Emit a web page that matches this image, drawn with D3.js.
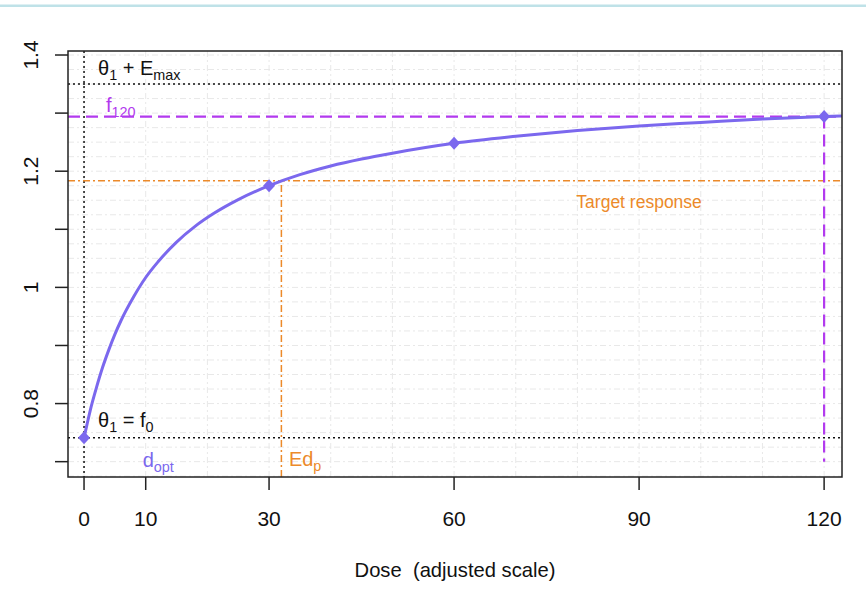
<!DOCTYPE html>
<html>
<head>
<meta charset="utf-8">
<script src="https://cdn.jsdelivr.net/npm/d3@7"></script>
<style>
  html, body { margin: 0; padding: 0; background: #ffffff; }
  svg { display: block; font-family: "Liberation Sans", Arial, Helvetica, sans-serif; }
  text { white-space: pre; }
</style>
</head>
<body>
<svg id="chart" width="866" height="596"></svg>
<script>
// ---- data ----
const curveDose = [0, 0.5, 1, 2, 3, 4, 5, 6, 8, 10, 12, 15, 18, 21, 25, 30, 35, 40, 45, 50, 60, 70, 80, 90, 100, 110, 120, 122.9];
const curveResp = [0.741, 0.765, 0.788, 0.827, 0.862, 0.892, 0.919, 0.943, 0.983, 1.017, 1.044, 1.078, 1.105, 1.127, 1.151, 1.175, 1.194, 1.209, 1.221, 1.231, 1.248, 1.260, 1.270, 1.278, 1.284, 1.290, 1.294, 1.295];
const markerDose = [0, 30, 60, 120];
const markerResp = [0.741, 1.175, 1.248, 1.294];
const theta1 = 0.741;        // θ1 = f0
const emaxLevel = 1.35;      // θ1 + Emax
const f120 = 1.294;          // f120
const targetResp = 1.1835;   // target response
const edp = 32;              // Ed_p
const maxDose = 120;
const xTicks = [0, 10, 30, 60, 90, 120];
const yTicks = [0.7, 0.8, 0.9, 1.0, 1.1, 1.2, 1.3, 1.4];
const yTickLabels = ["", "0.8", "", "1", "", "1.2", "", "1.4"];
const xGrid = [0, 10, 20, 30, 40, 50, 60, 70, 80, 90, 100, 110, 120];
const yGrid = d3.range(0, 30).map(i => +(0.675 + i * 0.025).toFixed(3));
const xTitle = "Dose  (adjusted scale)";

// ---- layout ----
const svg = d3.select("#chart");
const L = 68, R = 842, T = 51, B = 477;
const x = d3.scaleLinear().domain([-2.6, 122.9]).range([L, R]);
const y = d3.scaleLinear().domain([0.6736, 1.4069]).range([B, T]);

const purple = "#7B68EE", orchid = "#B23AEE", orange = "#EC8A2A";

// top decorative rule
svg.append("rect").attr("x", 0).attr("y", 4.5).attr("width", 866).attr("height", 2.5).attr("fill", "#bfe2e8");

svg.append("defs").append("clipPath").attr("id", "clip")
  .append("rect").attr("x", L).attr("y", T).attr("width", R - L).attr("height", B - T);

const plot = svg.append("g").attr("clip-path", "url(#clip)");

// grid
plot.selectAll(".vg").data(xGrid).join("line")
  .attr("x1", d => x(d)).attr("x2", d => x(d)).attr("y1", T).attr("y2", B)
  .attr("stroke", "#e8e8e8").attr("stroke-width", 1).attr("stroke-dasharray", "6,3,2,3");
plot.selectAll(".hg").data(yGrid).join("line")
  .attr("y1", d => y(d)).attr("y2", d => y(d)).attr("x1", L).attr("x2", R)
  .attr("stroke", "#e8e8e8").attr("stroke-width", 1).attr("stroke-dasharray", "6,3,2,3");

// reference lines
plot.append("line").attr("x1", x(0)).attr("x2", x(0)).attr("y1", T).attr("y2", B)
  .attr("stroke", "#111").attr("stroke-width", 1.5).attr("stroke-dasharray", "2,3");
plot.append("line").attr("x1", L).attr("x2", R).attr("y1", y(emaxLevel)).attr("y2", y(emaxLevel))
  .attr("stroke", "#111").attr("stroke-width", 1.5).attr("stroke-dasharray", "2,3");
plot.append("line").attr("x1", L).attr("x2", R).attr("y1", y(theta1)).attr("y2", y(theta1))
  .attr("stroke", "#111").attr("stroke-width", 1.5).attr("stroke-dasharray", "2,3");

// target response
plot.append("line").attr("x1", L).attr("x2", R).attr("y1", y(targetResp)).attr("y2", y(targetResp))
  .attr("stroke", orange).attr("stroke-width", 1.5).attr("stroke-dasharray", "7,3,2,3");
plot.append("line").attr("x1", x(edp)).attr("x2", x(edp)).attr("y1", B).attr("y2", y(targetResp))
  .attr("stroke", orange).attr("stroke-width", 1.5).attr("stroke-dasharray", "7,3,2,3");

// f120
plot.append("line").attr("x1", L).attr("x2", R).attr("y1", y(f120)).attr("y2", y(f120))
  .attr("stroke", orchid).attr("stroke-width", 2.2).attr("stroke-dasharray", "12,6");
plot.append("line").attr("x1", x(maxDose)).attr("x2", x(maxDose)).attr("y1", y(f120)).attr("y2", y(0.7))
  .attr("stroke", orchid).attr("stroke-width", 2.2).attr("stroke-dasharray", "12,6");

// curve
const pts = curveDose.map((d, i) => [d, curveResp[i]]);
plot.append("path").datum(pts)
  .attr("d", d3.line().x(d => x(d[0])).y(d => y(d[1])).curve(d3.curveMonotoneX))
  .attr("fill", "none").attr("stroke", purple).attr("stroke-width", 3);

// markers
plot.selectAll(".mk").data(markerDose.map((d, i) => [d, markerResp[i]])).join("path")
  .attr("d", d => {
    const cx = x(d[0]), cy = y(d[1]);
    return `M${cx},${cy - 6.5}L${cx + 6},${cy}L${cx},${cy + 6.5}L${cx - 6},${cy}Z`;
  })
  .attr("fill", purple);

// box
svg.append("rect").attr("x", L).attr("y", T).attr("width", R - L).attr("height", B - T)
  .attr("fill", "none").attr("stroke", "#222").attr("stroke-width", 1.5);

// y axis
const ya = svg.append("g");
ya.selectAll("line").data(yTicks).join("line")
  .attr("x1", L - 13).attr("x2", L).attr("y1", d => y(d)).attr("y2", d => y(d))
  .attr("stroke", "#222").attr("stroke-width", 1.5);
ya.selectAll("text").data(yTicks.map((d, i) => [d, yTickLabels[i]]).filter(d => d[1])).join("text")
  .attr("transform", d => `translate(37.5,${y(d[0])}) rotate(-90)`)
  .attr("text-anchor", "middle").attr("font-size", 21).attr("fill", "#111")
  .text(d => d[1]);

// x axis
const xa = svg.append("g");
xa.selectAll("line").data(xTicks).join("line")
  .attr("x1", d => x(d)).attr("x2", d => x(d)).attr("y1", B).attr("y2", B + 13)
  .attr("stroke", "#222").attr("stroke-width", 1.5);
xa.selectAll("text").data(xTicks).join("text")
  .attr("x", d => x(d)).attr("y", 525.5).attr("text-anchor", "middle")
  .attr("font-size", 21).attr("fill", "#111").text(d => d);

svg.append("text").attr("x", (L + R) / 2).attr("y", 577).attr("text-anchor", "middle")
  .attr("font-size", 20.2).attr("fill", "#111").text(xTitle);

// annotation helper with subscripts
function label(px, py, parts, color, size) {
  const t = svg.append("text").attr("x", px).attr("y", py).attr("fill", color).attr("font-size", size);
  let shifted = 0;
  parts.forEach(p => {
    const sub = p.sub === true;
    const dy = sub ? 5 - shifted : -shifted;
    shifted = sub ? 5 : 0;
    t.append("tspan").attr("dy", dy).attr("font-size", sub ? size * 0.72 : size).text(p.t);
  });
  return t;
}
label(x(0) + 14, y(emaxLevel) - 9, [{t: "θ"}, {t: "1", sub: true}, {t: " + E"}, {t: "max", sub: true}], "#111", 20);
label(x(0) + 22, y(f120) - 5, [{t: "f"}, {t: "120", sub: true}], orchid, 20);
label(x(0) + 14, y(theta1) - 11, [{t: "θ"}, {t: "1", sub: true}, {t: " = f"}, {t: "0", sub: true}], "#111", 20);
label(x(10) - 3, 466.5, [{t: "d"}, {t: "opt", sub: true}], purple, 20);
label(x(edp) + 7.5, 466, [{t: "Ed"}, {t: "p", sub: true}], orange, 20);
svg.append("text").attr("x", x(90)).attr("y", y(targetResp) + 27).attr("text-anchor", "middle")
  .attr("font-size", 17.5).attr("fill", orange).text("Target response");
</script>
</body>
</html>
